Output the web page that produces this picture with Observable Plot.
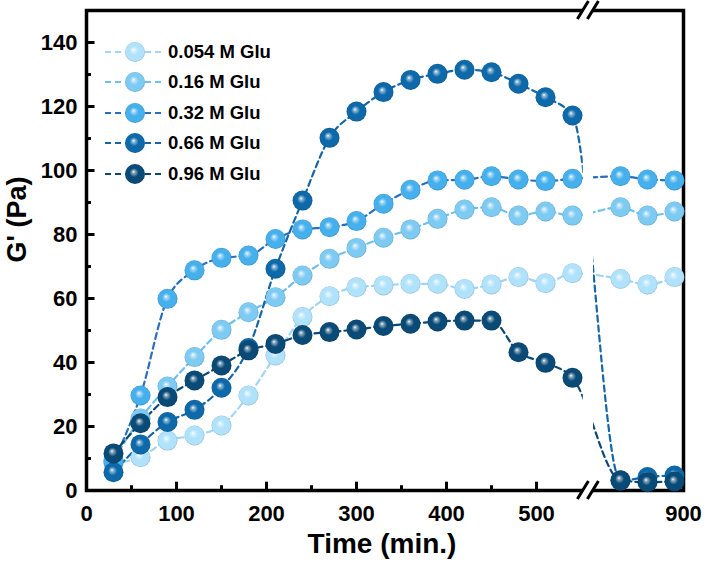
<!DOCTYPE html>
<html>
<head>
<meta charset="utf-8">
<script src="https://cdn.jsdelivr.net/npm/d3@7"></script>
<script src="https://cdn.jsdelivr.net/npm/@observablehq/plot@0.6"></script>
<style>
  html, body { margin: 0; padding: 0; background: #fff; }
  #wrap { position: relative; width: 705px; height: 564px; font-family: 'Liberation Sans', Arial, sans-serif; font-weight: bold; }
  #legend { position: absolute; left: 105px; top: 36.5px; }
  .row { display: flex; align-items: center; height: 30.5px; }
  .row span { margin-left: 5px; font-size: 18.5px; font-weight: bold; color: #000; }
</style>
</head>
<body>
<svg width="0" height="0" style="position:absolute"><defs id="gdefs"></defs></svg>
<div id="wrap"><div id="legend"></div></div>
<script>
// ---- data ----
const times = [30, 60, 90, 120, 150, 180, 210, 240, 270, 300, 330, 360, 390, 420, 450, 480, 510, 540, 830, 860, 890];
const seriesNames = ["0.054 M Glu", "0.16 M Glu", "0.32 M Glu", "0.66 M Glu", "0.96 M Glu"];
const g054 = [8.5, 10.4, 15.6, 17.2, 20.3, 29.7, 42.2, 54.2, 60.7, 63.5, 64.1, 64.6, 64.6, 63.0, 64.4, 66.7, 64.8, 67.9, 66.1, 64.4, 66.7];
const g016 = [9.5, 22.5, 32.5, 41.7, 50.2, 55.7, 60.4, 67.2, 72.4, 75.8, 79.0, 81.6, 84.9, 87.8, 88.5, 85.9, 87.2, 85.9, 88.5, 85.9, 87.2];
const g032 = [9.0, 29.7, 59.9, 68.8, 72.7, 73.4, 78.6, 81.6, 82.3, 84.2, 89.6, 94.0, 96.9, 97.1, 98.2, 97.2, 96.7, 97.4, 98.2, 97.2, 96.9];
const g066 = [5.7, 14.4, 21.4, 25.2, 32.1, 44.5, 69.3, 90.6, 110.2, 118.4, 124.5, 128.3, 130.2, 131.5, 130.7, 127.1, 122.9, 117.2, 3.1, 4.2, 4.7];
const g096 = [11.6, 21.0, 29.2, 34.4, 39.1, 43.8, 45.8, 48.6, 49.5, 50.3, 51.4, 52.1, 52.8, 53.1, 53.1, 43.2, 39.9, 35.2, 3.2, 2.6, 2.8];
const seriesValues = [g054, g016, g032, g066, g096];
const ballColors = ["#b0e2fb", "#7dcaf2", "#45b0ec", "#0d69aa", "#0a4a76"];
const lineColors = ["#9fd6f3", "#6fc0ee", "#2a6ec0", "#1565a8", "#0b4873"];
const xTickLabels = [0, 100, 200, 300, 400, 500, 900];
const xMinorTicks = [50, 150, 250, 350, 450];
const yTickLabels = [0, 20, 40, 60, 80, 100, 120, 140];
const yMinorTicks = [10, 30, 50, 70, 90, 110, 130];
const xBreak = [552, 800];   // axis break: left segment ends, right segment starts
const xLabel = "Time (min.)";
const yLabel = "G' (Pa)";

// ---- gradients (sphere look) ----
const defs = d3.select("#gdefs");
ballColors.forEach((c, i) => {
  const base = d3.color(c);
  const g = defs.append("radialGradient").attr("id", "ball" + i)
    .attr("cx", "50%").attr("cy", "50%").attr("r", "50%").attr("fx", "42%").attr("fy", "38%");
  g.append("stop").attr("offset", "0%").attr("stop-color", "#ffffff");
  g.append("stop").attr("offset", "14%").attr("stop-color", d3.interpolateRgb("#ffffff", c)(0.45));
  g.append("stop").attr("offset", "45%").attr("stop-color", c);
  g.append("stop").attr("offset", "88%").attr("stop-color", c);
  g.append("stop").attr("offset", "100%").attr("stop-color", base.darker(0.5).formatHex());
});

// ---- table ----
const rows = [];
seriesNames.forEach((name, si) => {
  times.forEach((t, i) => rows.push({series: name, si, t, v: seriesValues[si][i]}));
});

function breakMark(index, scales, values, dims) {
  const x1 = scales.x(xBreak[0]), x2 = scales.x(xBreak[1]);
  const c = (x1 + x2) / 2;
  const top = dims.marginTop, bottom = dims.height - dims.marginBottom;
  const g = d3.create("svg:g");
  g.append("rect").attr("x", x1).attr("y", top - 4).attr("width", x2 - x1)
    .attr("height", bottom - top + 8).attr("fill", "white");
  for (const yy of [top, bottom]) for (const off of [-5, 5]) {
    g.append("line").attr("x1", c + off - 5.5).attr("y1", yy + 9)
      .attr("x2", c + off + 5.5).attr("y2", yy - 9)
      .attr("stroke", "black").attr("stroke-width", 3);
  }
  return g.node();
}

const lineMarks = seriesNames.map((name, si) =>
  Plot.line(rows.filter(d => d.si === si), {
    x: "t", y: "v", stroke: lineColors[si], strokeWidth: 2.2,
    strokeDasharray: "6,4", curve: "monotone-x"
  }));
const dotMarks = seriesNames.map((name, si) =>
  Plot.dot(rows.filter(d => d.si === si), {
    x: "t", y: "v", r: 10, fill: `url(#ball${si})`, stroke: "none"
  }));

const plot = Plot.plot({
  width: 705, height: 564,
  marginLeft: 86, marginRight: 22, marginTop: 10, marginBottom: 74,
  style: {fontFamily: "'Liberation Sans', Arial, sans-serif", fontWeight: "bold", color: "#000", background: "transparent"},
  x: {type: "linear", domain: [0, xBreak[0], xBreak[1], 900], range: [86, 86 + 0.9 * xBreak[0], 593, 683]},
  y: {domain: [0, 150], range: [490, 10]},
  marks: [
    ...lineMarks,
    Plot.frame({stroke: "#000", strokeWidth: 3.5}),
    Plot.ruleX(xTickLabels.filter(d => d < xBreak[0]), {x: d => d, y1: 0, y2: 2.6, stroke: "#000", strokeWidth: 3}),
    Plot.ruleX(xMinorTicks, {x: d => d, y1: 0, y2: 1.5, stroke: "#000", strokeWidth: 3}),
    Plot.ruleY(yTickLabels, {y: d => d, x1: 0, x2: 9.5, stroke: "#000", strokeWidth: 3}),
    Plot.ruleY(yMinorTicks, {y: d => d, x1: 0, x2: 5.5, stroke: "#000", strokeWidth: 3}),
    breakMark,
    ...dotMarks,
    Plot.axisX({ticks: xTickLabels, tickSize: 0, tickPadding: 15, fontSize: 22, label: null, tickFormat: d => String(d)}),
    Plot.axisY({ticks: yTickLabels, tickSize: 0, tickPadding: 9, fontSize: 22, label: null, tickFormat: d => String(d)}),
    Plot.text([xLabel], {frameAnchor: "bottom", dx: -3, dy: 62, fontSize: 28, fontWeight: "bold"}),
    Plot.text([yLabel], {frameAnchor: "left", dx: -69, dy: 12, rotate: -90, fontSize: 27, fontWeight: "bold"})
  ]
});
document.getElementById("wrap").prepend(plot);

// ---- legend ----
const legend = d3.select("#legend");
seriesNames.forEach((name, si) => {
  const row = legend.append("div").attr("class", "row");
  const s = row.append("svg").attr("width", 58).attr("height", 22);
  s.append("line").attr("x1", 0).attr("x2", 58).attr("y1", 11).attr("y2", 11)
    .attr("stroke", lineColors[si]).attr("stroke-width", 2.2).attr("stroke-dasharray", "6,4");
  s.append("circle").attr("cx", 30).attr("cy", 11).attr("r", 10).attr("fill", `url(#ball${si})`);
  row.append("span").text(name);
});
</script>
</body>
</html>
